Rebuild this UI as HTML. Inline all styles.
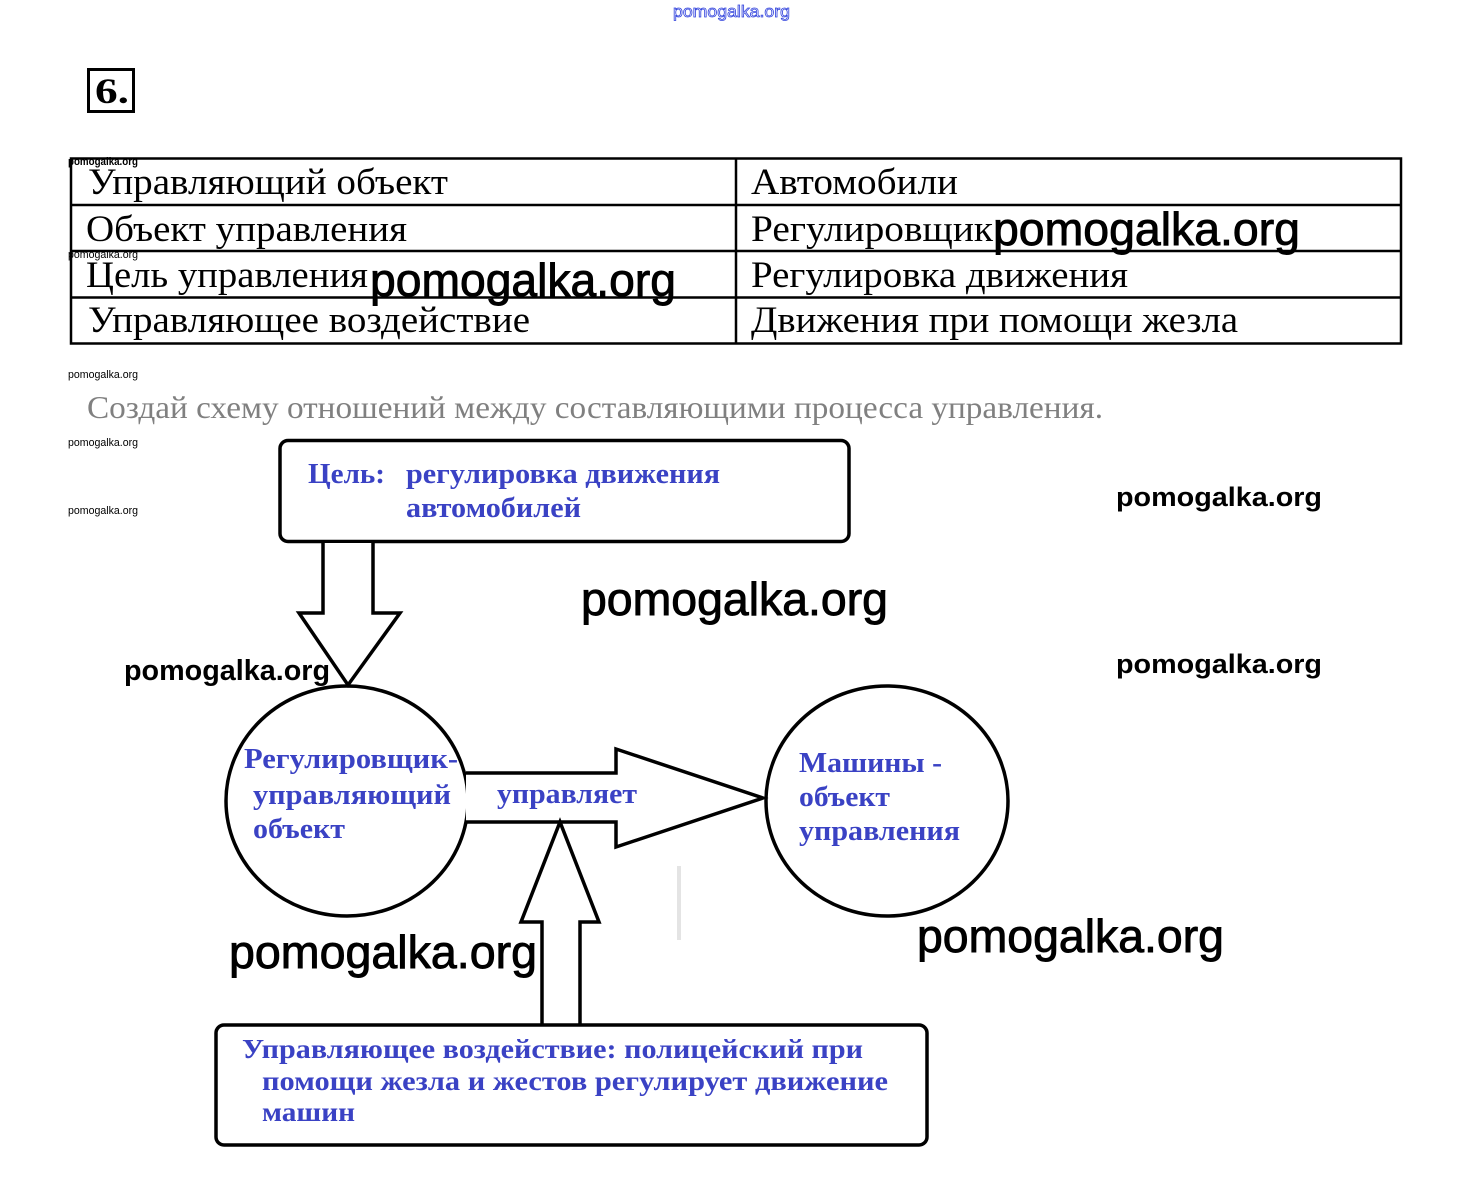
<!DOCTYPE html>
<html>
<head>
<meta charset="utf-8">
<style>
html,body{margin:0;padding:0;background:#fff;}
svg{display:block;}
.serif{font-family:"Liberation Serif","Noto Serif CJK SC",serif;}
.sans{font-family:"Liberation Sans","Noto Sans CJK SC",sans-serif;}
.blue{fill:#3a42c4;font-weight:bold;}
</style>
</head>
<body>
<svg width="1460" height="1189" viewBox="0 0 1460 1189" xmlns="http://www.w3.org/2000/svg">
<rect width="1460" height="1189" fill="#fff"/>

<!-- top watermark -->
<text x="673" y="17" class="sans" font-size="17" fill="#fff" stroke="#3344dd" stroke-width="0.8" textLength="117" lengthAdjust="spacingAndGlyphs">pomogalka.org</text>

<!-- 6. box -->
<rect x="88.5" y="69.5" width="45" height="42" fill="none" stroke="#000" stroke-width="3"/>
<text x="95" y="103" class="serif" font-size="36" font-weight="bold" fill="#000" textLength="34" lengthAdjust="spacingAndGlyphs">6.</text>

<!-- table -->
<g stroke="#000" stroke-width="2.5" fill="none">
<rect x="71" y="158.5" width="1330" height="185"/>
<line x1="71" y1="205" x2="1401" y2="205"/>
<line x1="71" y1="251" x2="1401" y2="251"/>
<line x1="71" y1="297.5" x2="1401" y2="297.5"/>
<line x1="736" y1="158.5" x2="736" y2="343.5"/>
</g>
<g class="serif" font-size="37" fill="#000">
<text x="88" y="194" textLength="360" lengthAdjust="spacingAndGlyphs">Управляющий объект</text>
<text x="86" y="241" textLength="321" lengthAdjust="spacingAndGlyphs">Объект управления</text>
<text x="86" y="287" textLength="282" lengthAdjust="spacingAndGlyphs">Цель управления</text>
<text x="88" y="332" textLength="442" lengthAdjust="spacingAndGlyphs">Управляющее воздействие</text>
<text x="751" y="194" textLength="207" lengthAdjust="spacingAndGlyphs">Автомобили</text>
<text x="751" y="241" textLength="242" lengthAdjust="spacingAndGlyphs">Регулировщик</text>
<text x="751" y="287" textLength="377" lengthAdjust="spacingAndGlyphs">Регулировка движения</text>
<text x="751" y="332" textLength="487" lengthAdjust="spacingAndGlyphs">Движения при помощи жезла</text>
</g>

<!-- big watermarks -->
<g class="sans" font-size="46" fill="#000" stroke="#000" stroke-width="0.9">
<text x="370" y="296" textLength="306" lengthAdjust="spacingAndGlyphs">pomogalka.org</text>
<text x="993" y="245" textLength="307" lengthAdjust="spacingAndGlyphs">pomogalka.org</text>
<text x="581" y="615" textLength="307" lengthAdjust="spacingAndGlyphs">pomogalka.org</text>
<text x="229" y="968" textLength="308" lengthAdjust="spacingAndGlyphs">pomogalka.org</text>
<text x="917" y="952" textLength="307" lengthAdjust="spacingAndGlyphs">pomogalka.org</text>
</g>
<g class="sans" font-weight="bold" fill="#000">
<text x="124" y="680" font-size="29" textLength="206" lengthAdjust="spacingAndGlyphs">pomogalka.org</text>
<text x="1116" y="506" font-size="27" textLength="206" lengthAdjust="spacingAndGlyphs">pomogalka.org</text>
<text x="1116" y="673" font-size="27" textLength="206" lengthAdjust="spacingAndGlyphs">pomogalka.org</text>
</g>
<!-- small watermarks -->
<g class="sans" font-size="11" fill="#000">
<text x="68" y="165" textLength="70" lengthAdjust="spacingAndGlyphs" font-weight="bold">pomogalka.org</text>
<text x="68" y="258" textLength="70" lengthAdjust="spacingAndGlyphs">pomogalka.org</text>
<text x="68" y="378" textLength="70" lengthAdjust="spacingAndGlyphs">pomogalka.org</text>
<text x="68" y="446" textLength="70" lengthAdjust="spacingAndGlyphs">pomogalka.org</text>
<text x="68" y="514" textLength="70" lengthAdjust="spacingAndGlyphs">pomogalka.org</text>
</g>

<!-- gray instruction -->
<text x="87" y="418" class="serif" font-size="32" fill="#808080" textLength="1016" lengthAdjust="spacingAndGlyphs">Создай схему отношений между составляющими процесса управления.</text>

<!-- faint artifact -->
<line x1="679" y1="866" x2="679" y2="940" stroke="#e4e4e4" stroke-width="4"/>

<!-- top box -->
<rect x="280" y="440.5" width="569" height="101" rx="8" ry="8" fill="#fff" stroke="#000" stroke-width="3.5"/>
<g class="serif blue" font-size="28">
<text x="308" y="483" textLength="77" lengthAdjust="spacingAndGlyphs">Цель:</text>
<text x="406" y="483" textLength="314" lengthAdjust="spacingAndGlyphs">регулировка движения</text>
<text x="406" y="517" textLength="175" lengthAdjust="spacingAndGlyphs">автомобилей</text>
</g>

<!-- down arrow -->
<path d="M323,543 V613 H299 L348,685 L400,613 H373 V543" fill="#fff" stroke="#000" stroke-width="3.5" stroke-linejoin="miter"/>

<!-- ellipses -->
<ellipse cx="347" cy="801" rx="121" ry="115" fill="none" stroke="#000" stroke-width="3.5"/>
<ellipse cx="887" cy="801" rx="121" ry="115" fill="none" stroke="#000" stroke-width="3.5"/>

<!-- right arrow -->
<path d="M466,773 H616 V749 L763,798 L616,847 V822 H466" fill="#fff" stroke="#000" stroke-width="3.5"/>
<!-- up arrow -->
<path d="M542,1025 V922 H521 L560,822 L599,922 H580 V1025" fill="#fff" stroke="#000" stroke-width="3.5"/>

<!-- circle texts -->
<g class="serif blue" font-size="28">
<text x="244" y="768" textLength="214" lengthAdjust="spacingAndGlyphs">Регулировщик-</text>
<text x="253" y="804" textLength="198" lengthAdjust="spacingAndGlyphs">управляющий</text>
<text x="253" y="838" textLength="92" lengthAdjust="spacingAndGlyphs">объект</text>
<text x="497" y="803" textLength="140" lengthAdjust="spacingAndGlyphs">управляет</text>
<text x="799" y="772" textLength="143" lengthAdjust="spacingAndGlyphs">Машины -</text>
<text x="799" y="806" textLength="91" lengthAdjust="spacingAndGlyphs">объект</text>
<text x="799" y="840" textLength="161" lengthAdjust="spacingAndGlyphs">управления</text>
</g>

<!-- bottom box -->
<rect x="216" y="1025" width="711" height="120" rx="8" ry="8" fill="#fff" stroke="#000" stroke-width="3.5"/>
<g class="serif blue" font-size="27">
<text x="242" y="1058" textLength="621" lengthAdjust="spacingAndGlyphs">Управляющее воздействие: полицейский при</text>
<text x="262" y="1090" textLength="626" lengthAdjust="spacingAndGlyphs">помощи  жезла и жестов регулирует движение</text>
<text x="262" y="1121" textLength="93" lengthAdjust="spacingAndGlyphs">машин</text>
</g>
</svg>
</body>
</html>
